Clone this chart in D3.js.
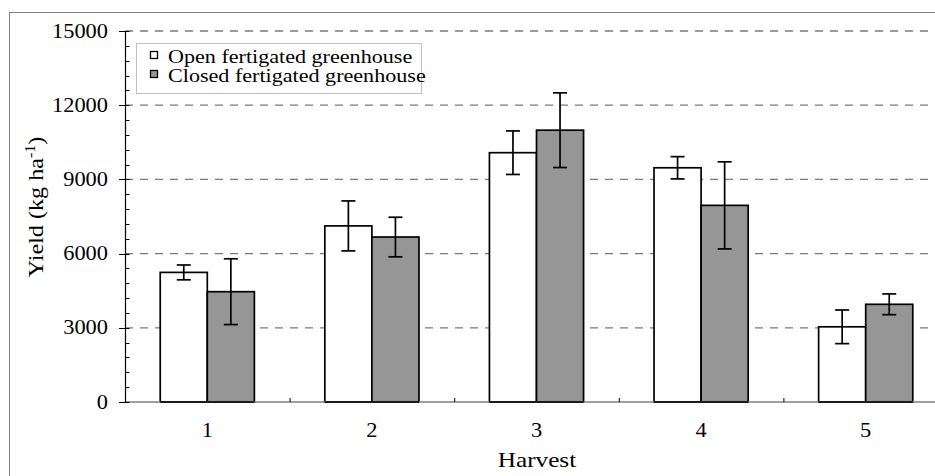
<!DOCTYPE html>
<html>
<head>
<meta charset="utf-8">
<script src="https://cdn.jsdelivr.net/npm/d3@7"></script>
<style>
  body { margin: 0; background: #fff; }
  svg { display: block; font-family: "Liberation Serif", "Times New Roman", serif; }
</style>
</head>
<body>
<svg width="935" height="476"></svg>
<script>
// harvest yields
var harvests = ["1", "2", "3", "4", "5"];
var seriesNames = ["Open fertigated greenhouse", "Closed fertigated greenhouse"];
var seriesFill = ["#ffffff", "#969696"];
var openYield = [5240, 7120, 10080, 9470, 3040];
var openErr = [300, 1010, 880, 450, 680];
var closedYield = [4460, 6670, 10990, 7950, 3950];
var closedErr = [1330, 800, 1510, 1760, 420];
var yTicks = [0, 3000, 6000, 9000, 12000, 15000];

(function() {
    var svg = d3.select("svg");
    var sx = 1.12; // text in the original is a bit wide

    // outer frame (runs off the right and bottom of the picture)
    svg.append("rect")
        .attr("x", 9.5).attr("y", 12.5)
        .attr("width", 1000).attr("height", 1000)
        .attr("fill", "none").attr("stroke", "#808080").attr("stroke-width", 1);

    var x = d3.scaleBand().domain(harvests).range([125, 948]);
    var inner = d3.scaleBand().domain([0, 1]).range([0, x.bandwidth() * 0.572]);
    var y = d3.scaleLinear().domain([0, 15000]).range([402, 31]);

    // gridlines
    svg.append("g").selectAll("line")
        .data(yTicks.filter(function(d) { return d > 0; }))
        .enter().append("line")
        .attr("x1", 125).attr("x2", 935)
        .attr("y1", function(d) { return y(d); })
        .attr("y2", function(d) { return y(d); })
        .attr("stroke", "#7a7a7a").attr("stroke-width", 1.3)
        .attr("stroke-dasharray", "8,7");

    // bars
    var rows = harvests.map(function(h, i) {
        return [
            { h: h, s: 0, v: openYield[i], e: openErr[i] },
            { h: h, s: 1, v: closedYield[i], e: closedErr[i] }
        ];
    });
    var flat = [].concat.apply([], rows);
    var off = (x.bandwidth() - inner.range()[1]) / 2;

    svg.append("g").selectAll("rect")
        .data(flat).enter().append("rect")
        .attr("x", function(d) { return x(d.h) + off + inner(d.s); })
        .attr("y", function(d) { return y(d.v); })
        .attr("width", inner.bandwidth())
        .attr("height", function(d) { return y(0) - y(d.v); })
        .attr("fill", function(d) { return seriesFill[d.s]; })
        .attr("stroke", "#000").attr("stroke-width", 1.7);

    // x axis line (gray) and inside ticks between groups
    svg.append("line")
        .attr("x1", 125).attr("x2", 935)
        .attr("y1", y(0)).attr("y2", y(0))
        .attr("stroke", "#808080").attr("stroke-width", 1.6);
    svg.append("g").selectAll("line")
        .data(harvests.slice(1)).enter().append("line")
        .attr("x1", function(d) { return x(d) + 0.5; })
        .attr("x2", function(d) { return x(d) + 0.5; })
        .attr("y1", y(0)).attr("y2", y(0) - 4)
        .attr("stroke", "#000").attr("stroke-width", 1);

    // redraw bar bottoms in black on top of the axis
    svg.append("g").selectAll("line")
        .data(flat).enter().append("line")
        .attr("x1", function(d) { return x(d.h) + off + inner(d.s); })
        .attr("x2", function(d) { return x(d.h) + off + inner(d.s) + inner.bandwidth(); })
        .attr("y1", y(0)).attr("y2", y(0))
        .attr("stroke", "#000").attr("stroke-width", 1.7);

    // error bars
    var eb = svg.append("g").attr("stroke", "#000").attr("stroke-width", 1.7);
    flat.forEach(function(d) {
        var cx = x(d.h) + off + inner(d.s) + inner.bandwidth() / 2;
        eb.append("line").attr("x1", cx).attr("x2", cx)
            .attr("y1", y(d.v + d.e)).attr("y2", y(d.v - d.e));
        [d.v + d.e, d.v - d.e].forEach(function(v) {
            eb.append("line").attr("x1", cx - 7).attr("x2", cx + 7)
                .attr("y1", y(v)).attr("y2", y(v));
        });
    });

    // y axis
    var yAxis = svg.append("g");
    yAxis.append("line")
        .attr("x1", 125.5).attr("x2", 125.5)
        .attr("y1", y(15000)).attr("y2", y(0))
        .attr("stroke", "#000").attr("stroke-width", 1.2);
    yAxis.selectAll("line.minor")
        .data(d3.range(0, 15001, 600)).enter().append("line")
        .attr("class", "minor")
        .attr("x1", function(d) { return d % 3000 === 0 ? 119 : 125; })
        .attr("x2", 129.5)
        .attr("y1", function(d) { return Math.round(y(d)) + 0.5; })
        .attr("y2", function(d) { return Math.round(y(d)) + 0.5; })
        .attr("stroke", "#000").attr("stroke-width", 1);
    yAxis.selectAll("text")
        .data(yTicks).enter().append("text")
        .attr("transform", function(d) { return "translate(108," + (y(d) + 6.5) + ") scale(" + sx + ",1)"; })
        .attr("text-anchor", "end")
        .attr("font-size", 20)
        .text(function(d) { return d; });

    // x tick labels
    svg.append("g").selectAll("text")
        .data(harvests).enter().append("text")
        .attr("transform", function(d) { return "translate(" + (x(d) + x.bandwidth() / 2) + ",437) scale(" + sx + ",1)"; })
        .attr("text-anchor", "middle")
        .attr("font-size", 20)
        .text(function(d) { return d; });

    // axis titles
    svg.append("text")
        .attr("transform", "translate(537,467) scale(1.2,1)")
        .attr("text-anchor", "middle")
        .attr("font-size", 21)
        .text("Harvest");

    var yt = svg.append("text")
        .attr("transform", "translate(43,207) rotate(-90) scale(1.15,1)")
        .attr("text-anchor", "middle")
        .attr("font-size", 21);
    yt.append("tspan").text("Yield (kg ha");
    yt.append("tspan").attr("font-size", 14).attr("baseline-shift", "60%").text("-1");
    yt.append("tspan").text(")");

    // legend
    var lg = svg.append("g");
    lg.append("rect")
        .attr("x", 136.5).attr("y", 43.5)
        .attr("width", 285).attr("height", 50)
        .attr("fill", "#fff").attr("stroke", "#c0c0c0").attr("stroke-width", 1);
    seriesNames.forEach(function(name, i) {
        var cy = 55 + i * 19;
        lg.append("rect")
            .attr("x", 150.5).attr("y", cy - 3.5)
            .attr("width", 7).attr("height", 7)
            .attr("fill", seriesFill[i]).attr("stroke", "#000").attr("stroke-width", 1.3);
        lg.append("text")
            .attr("transform", "translate(168," + (cy + 7.5) + ") scale(1.3,1.1)")
            .attr("font-size", 17)
            .text(name);
    });
})();
</script>
</body>
</html>
